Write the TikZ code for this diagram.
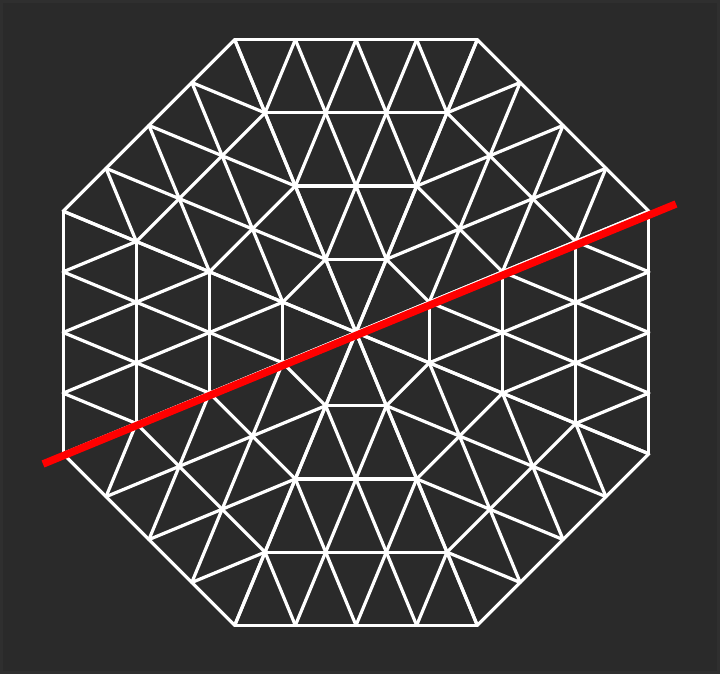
\documentclass[tikz,border=0pt]{standalone}
\usetikzlibrary{calc}
\definecolor{bgcol}{HTML}{2A2A2A}
\definecolor{framecol}{HTML}{2F2F2F}
\tikzset{
  mesh/.style={draw=white, line width=3.2pt, line cap=round, line join=round},
  cutline/.style={draw=red, line width=7.5pt, line cap=butt}
}
\begin{document}
\begin{tikzpicture}[x=1pt,y=1pt]
  \fill[framecol] (0,0) rectangle (720,674);
  \fill[bgcol] (3,3) rectangle (717,671);
  \useasboundingbox (0,0) rectangle (720,674);
  \coordinate (C) at (356,341.5);
  \foreach \s in {0,...,7}{
    \pgfmathsetmacro\a{22.5+45*\s}
    \pgfmathsetmacro\b{67.5+45*\s}
    \coordinate (A) at ($(C)+(\a:317)$);
    \coordinate (B) at ($(C)+(\b:317)$);
    \foreach \k in {1,...,4}
      \draw[mesh] ($(C)!\k/4!(A)$) -- ($(C)!\k/4!(B)$);
    \foreach \j in {0,...,3}{
      \draw[mesh] ($(C)!\j/4!(B)$) -- ($(A)!\j/4!(B)$);
      \draw[mesh] ($(C)!\j/4!(A)$) -- ($(B)!\j/4!(A)$);
    }
  }
  \coordinate (L) at (43,210);
  \coordinate (R) at (676,470);
  \draw[cutline] (L) -- (R);
\end{tikzpicture}
\end{document}
